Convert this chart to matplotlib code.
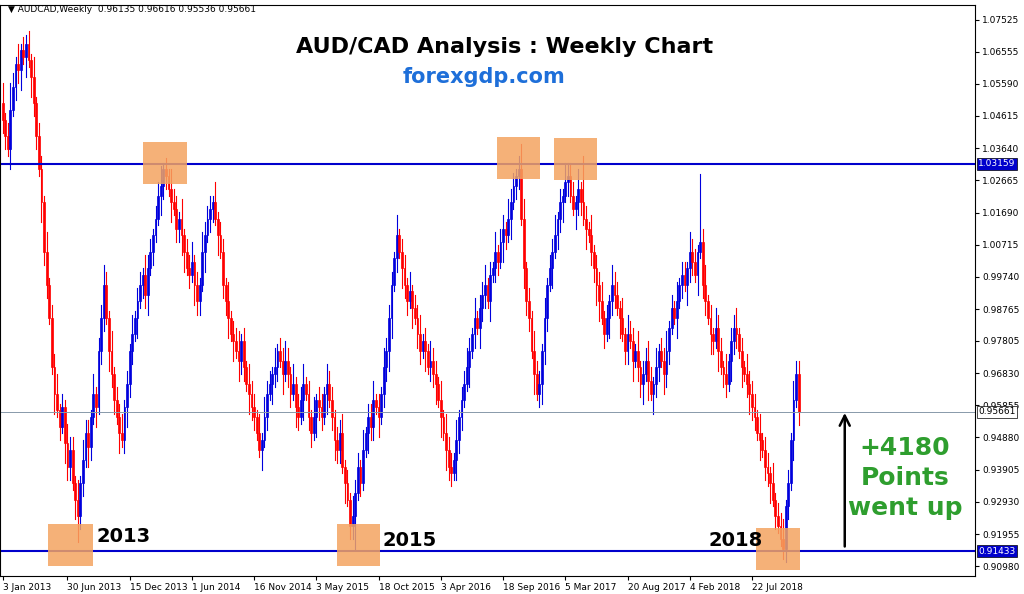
import matplotlib
matplotlib.use("Agg")
import matplotlib.pyplot as plt
from matplotlib.patches import Rectangle
import numpy as np

closes = [
1.045,1.040,1.036,1.048,1.055,1.062,1.060,1.066,1.064,1.068,
1.063,1.058,1.050,1.040,1.030,1.020,1.005,0.995,0.985,0.970,
0.962,0.957,0.952,0.958,0.947,0.940,0.945,0.935,0.930,0.925,
0.935,0.942,0.950,0.946,0.955,0.962,0.958,0.975,0.985,0.995,
0.985,0.975,0.968,0.960,0.955,0.950,0.948,0.958,0.965,0.975,
0.980,0.985,0.990,0.995,0.998,0.992,1.000,1.005,1.010,1.015,
1.022,1.025,1.030,1.028,1.024,1.020,1.018,1.012,1.015,1.010,
1.005,1.000,0.998,1.002,0.995,0.990,0.995,1.005,1.010,1.015,
1.018,1.020,1.015,1.010,1.005,0.995,0.990,0.985,0.980,0.978,
0.975,0.972,0.978,0.970,0.965,0.962,0.958,0.955,0.950,0.945,
0.948,0.955,0.962,0.965,0.968,0.970,0.975,0.972,0.968,0.972,
0.968,0.962,0.965,0.958,0.955,0.960,0.965,0.962,0.955,0.950,
0.955,0.960,0.958,0.955,0.962,0.965,0.960,0.955,0.948,0.945,
0.950,0.940,0.935,0.930,0.922,0.925,0.932,0.940,0.935,0.945,
0.950,0.955,0.952,0.960,0.958,0.955,0.962,0.970,0.975,0.985,
0.995,1.003,1.010,1.005,1.000,0.995,0.990,0.993,0.988,0.985,
0.980,0.975,0.978,0.975,0.970,0.972,0.968,0.965,0.960,0.955,
0.950,0.945,0.940,0.938,0.942,0.948,0.955,0.960,0.965,0.970,
0.975,0.980,0.985,0.982,0.988,0.992,0.995,0.990,0.998,1.000,
1.005,1.002,1.008,1.012,1.010,1.015,1.020,1.025,1.028,1.030,
1.015,1.000,0.990,0.985,0.975,0.968,0.962,0.965,0.975,0.985,
0.995,1.000,1.005,1.010,1.015,1.020,1.022,1.026,1.028,1.022,
1.018,1.020,1.024,1.020,1.015,1.012,1.010,1.005,1.000,0.995,
0.990,0.985,0.980,0.985,0.990,0.995,0.992,0.988,0.985,0.980,
0.975,0.980,0.978,0.972,0.975,0.970,0.965,0.968,0.972,0.966,
0.962,0.965,0.970,0.975,0.972,0.968,0.975,0.982,0.988,0.985,
0.990,0.995,0.998,0.995,1.000,1.005,1.002,0.998,1.005,1.008,
0.995,0.990,0.985,0.980,0.978,0.982,0.975,0.970,0.968,0.965,
0.972,0.978,0.982,0.980,0.975,0.970,0.968,0.965,0.962,0.958,
0.955,0.950,0.948,0.945,0.940,0.938,0.935,0.930,0.925,0.922,
0.918,0.915,0.928,0.935,0.948,0.960,0.968,0.95661]
first_open = 1.050
# hand-typed wick lengths (units of 0.002)
wick_up = ("3124213122" "2131221312" "2312132213" "1322131223" "2131223121"
           "3122132212" "2312132213" "1223121322" "2131221312" "2312132213"
           "1322131223" "2131223121" "3122132212" "2312132213" "1223121322"
           "2131221312" "2312132213" "1322131223" "2131223121" "3122132212"
           "2312132213" "1223121322" "2131221312" "2312132213" "1322131223"
           "2131223121" "3122132212" "2312132213" "1223121322" "2131221312"
           "23121322")
wick_dn = ("2213122313" "1322132211" "3121322131" "2213213122" "1322131232"
           "2131223121" "1322131223" "3121322131" "2213122313" "1322132211"
           "3121322131" "2213213122" "1322131232" "2131223121" "1322131223"
           "3121322131" "2213122313" "1322132211" "3121322131" "2213213122"
           "1322131232" "2131223121" "1322131223" "3121322131" "2213122313"
           "1322132211" "3121322131" "2213213122" "1322131232" "2131223121"
           "13221312")
spike_high = {9: 1.0705, 63: 1.0335, 200: 1.0375, 224: 1.0340, 269: 1.0285, 313: 0.9700}
spike_low = {29: 0.9170, 136: 0.9150, 301: 0.9120}

tick_pos = [0, 25, 49, 73, 97, 121, 145, 169, 193, 217, 241, 265, 289]
tick_labels = ["3 Jan 2013", "30 Jun 2013", "15 Dec 2013", "1 Jun 2014", "16 Nov 2014",
               "3 May 2015", "18 Oct 2015", "3 Apr 2016", "18 Sep 2016", "5 Mar 2017",
               "20 Aug 2017", "4 Feb 2018", "22 Jul 2018"]
price_ticks = [1.07525, 1.06555, 1.05590, 1.04615, 1.03640, 1.02665, 1.01690, 1.00715,
               0.99740, 0.98765, 0.97805, 0.96830, 0.95855, 0.94880, 0.93905, 0.92930,
               0.91955, 0.90980]
resistance = 1.03159
support = 0.91433
last_price = 0.95661

fig = plt.figure(figsize=(10.24, 5.94), dpi=100)
ax = fig.add_axes([0.0, 0.03, 975/1024, 0.962])
n = len(closes)
opens = [first_open] + closes[:-1]
blue, red = "#0000dd", "#ff0000"
for i in range(n):
    o, c = opens[i], closes[i]
    hi = max(o, c) + int(wick_up[i]) * 0.002
    lo = min(o, c) - int(wick_dn[i]) * 0.002
    hi = spike_high.get(i, hi); lo = spike_low.get(i, lo)
    col = blue if c >= o else red
    ax.plot([i, i], [lo, hi], color=col, lw=0.8)
    ax.add_patch(Rectangle((i - 0.35, min(o, c)), 0.7, max(abs(c - o), 0.0004),
                           facecolor=col, edgecolor=col, lw=0.5))

ax.set_xlim(-1, 375)
ax.set_ylim(0.9068, 1.0798)
ax.axhline(resistance, color="#0000cc", lw=1.5)
ax.axhline(support, color="#0000cc", lw=1.5)
ax.axhline(last_price, color="#8899aa", lw=0.7)

def px2data(px, py):
    return px / 2.6 - 1, 1.07525 - (py - 20) / 3300

for (x0, y0, x1, y1) in [(48, 524, 93, 566), (338, 524, 381, 566), (143, 142, 187, 184),
                         (498, 137, 541, 179), (555, 138, 599, 180), (758, 528, 802, 570)]:
    a = px2data(x0, y1); b = px2data(x1, y0)
    ax.add_patch(Rectangle(a, b[0] - a[0], b[1] - a[1], facecolor="#f4a460", alpha=0.85,
                           edgecolor="none", zorder=3))

ax.yaxis.tick_right()
ax.set_yticks(price_ticks)
ax.set_yticklabels([f"{p:.5f}" for p in price_ticks], fontsize=6.5)
ax.set_xticks(tick_pos)
ax.set_xticklabels(tick_labels, fontsize=6.5, ha="left")
ax.tick_params(length=3, pad=2)
for v, bg in [(resistance, "#0000cc"), (support, "#0000cc"), (last_price, "#ffffff")]:
    ax.text(1.003, v, f"{v:.5f}", transform=ax.get_yaxis_transform(), fontsize=6.5,
            va="center", color="white" if bg != "#ffffff" else "black",
            bbox=dict(facecolor=bg, edgecolor="black", pad=1, lw=0.5), clip_on=False)

ax.text(2, 1.0775, "\u25bc AUDCAD,Weekly  0.96135 0.96616 0.95536 0.95661", fontsize=6.5)
fig.text(505/1024, 1 - 47/594, "AUD/CAD Analysis : Weekly Chart", fontsize=16,
         fontweight="bold", ha="center", va="center")
fig.text(484/1024, 1 - 77/594, "forexgdp.com", fontsize=15, fontweight="bold",
         color="#1e6fd9", ha="center", va="center")
for (px, py, s) in [(97, 537, "2013"), (383, 540, "2015"), (708, 541, "2018")]:
    fig.text(px/1024, 1 - py/594, s, fontsize=14, fontweight="bold", va="center")
fig.text(905/1024, 1 - 478/594, "+4180\nPoints\nwent up", fontsize=18, fontweight="bold",
         color="#2e9e2e", ha="center", va="center", linespacing=1.3)
ax.annotate("", xy=px2data(847, 410), xytext=px2data(847, 549),
            arrowprops=dict(arrowstyle="->", color="black", lw=1.8, mutation_scale=18))
fig.savefig("out.png", dpi=100, facecolor="white")
